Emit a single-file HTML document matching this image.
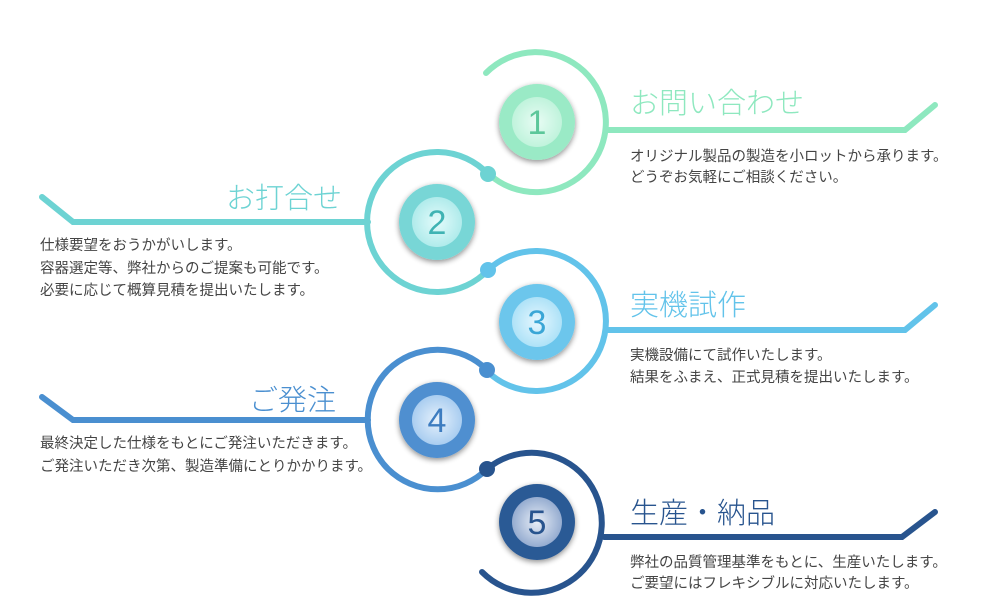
<!DOCTYPE html>
<html><head><meta charset="utf-8"><style>
html,body{margin:0;padding:0;background:#fff;}
svg text{font-family:"Liberation Sans","Noto Sans CJK JP",sans-serif;}
.t{font-size:29px;font-weight:300;}
.b{font-size:14.5px;fill:#444;}
</style></head><body>
<svg width="1000" height="600" viewBox="0 0 1000 600" xmlns="http://www.w3.org/2000/svg">
<defs>
<filter id="sh" x="-30%" y="-30%" width="160%" height="160%"><feGaussianBlur in="SourceAlpha" stdDeviation="3"/><feOffset dx="0" dy="2"/><feComponentTransfer><feFuncA type="linear" slope="0.45"/></feComponentTransfer><feMerge><feMergeNode/><feMergeNode in="SourceGraphic"/></feMerge></filter>
<radialGradient id="g1"><stop offset="0" stop-color="#e8fcf4"/><stop offset="1" stop-color="#c0f3dc"/></radialGradient>
<radialGradient id="g2"><stop offset="0" stop-color="#e4fbfb"/><stop offset="1" stop-color="#b0ebeb"/></radialGradient>
<radialGradient id="g3"><stop offset="0" stop-color="#e6f7ff"/><stop offset="1" stop-color="#aee2f7"/></radialGradient>
<radialGradient id="g4"><stop offset="0" stop-color="#e6f1fc"/><stop offset="1" stop-color="#a9cdf0"/></radialGradient>
<radialGradient id="g5"><stop offset="0" stop-color="#e8eef7"/><stop offset="1" stop-color="#95acd0"/></radialGradient>
</defs>
<g fill="none" stroke-width="6" stroke-linecap="round">
<path d="M486 73 A70 70 0 1 1 490 175" stroke="#8ee8bf"/>
<path d="M606 130 L905 130 L935 105" stroke="#8ee8bf"/>
<path d="M488 174 A70 70 0 1 0 488 270" stroke="#6dd3d3"/>
<path d="M368 222 L73 222 L42 197" stroke="#6dd3d3"/>
<path d="M488 270 A70 70 0 1 1 488 372" stroke="#62c3ea"/>
<path d="M606 330 L905 330 L935 305" stroke="#62c3ea"/>
<path d="M487 370 A70 70 0 1 0 487 469" stroke="#4a8fd0"/>
<path d="M368 420 L73 420 L42 397" stroke="#4a8fd0"/>
<path d="M487 469 A70 70 0 1 1 482 572" stroke="#28548e"/>
<path d="M604 537 L902 537 L935 512" stroke="#28548e"/>
</g>
<circle cx="488" cy="174" r="8" fill="#6dd3d3"/>
<circle cx="488" cy="270" r="8" fill="#62c3ea"/>
<circle cx="487" cy="370" r="8" fill="#4a8fd0"/>
<circle cx="487" cy="469" r="8" fill="#28548e"/>
<g filter="url(#sh)">
<circle cx="537" cy="122" r="38" fill="#9aeac6"/><circle cx="537" cy="122" r="25" fill="url(#g1)"/>
<circle cx="437" cy="222" r="38" fill="#78d6d6"/><circle cx="437" cy="222" r="25" fill="url(#g2)"/>
<circle cx="537" cy="322" r="38" fill="#6cc6ec"/><circle cx="537" cy="322" r="25" fill="url(#g3)"/>
<circle cx="437" cy="420" r="38" fill="#4f8fd0"/><circle cx="437" cy="420" r="25" fill="url(#g4)"/>
<circle cx="537" cy="522" r="38" fill="#2c5a95"/><circle cx="537" cy="522" r="25" fill="url(#g5)"/>
</g>
<g font-size="34" text-anchor="middle" font-weight="300">
<text x="537" y="134" fill="#5cc79a">1</text>
<text x="437" y="234" fill="#3fb3b3">2</text>
<text x="537" y="334" fill="#3aa6d6">3</text>
<text x="437" y="432" fill="#3d7cc0">4</text>
<text x="537" y="534" fill="#28548e">5</text>
</g>
<text class="t" x="630" y="113" fill="#8ee8bf">お問い合わせ</text>
<text class="b" x="630" y="161">オリジナル製品の製造を小ロットから承ります。</text>
<text class="b" x="630" y="182">どうぞお気軽にご相談ください。</text>
<text class="t" x="342" y="208" fill="#6dd3d3" text-anchor="end">お打合せ</text>
<text class="b" x="40" y="250">仕様要望をおうかがいします。</text>
<text class="b" x="40" y="273">容器選定等、弊社からのご提案も可能です。</text>
<text class="b" x="40" y="295">必要に応じて概算見積を提出いたします。</text>
<text class="t" x="630" y="315" fill="#62c3ea">実機試作</text>
<text class="b" x="630" y="360">実機設備にて試作いたします。</text>
<text class="b" x="630" y="382">結果をふまえ、正式見積を提出いたします。</text>
<text class="t" x="336" y="410" fill="#4a8fd0" text-anchor="end">ご発注</text>
<text class="b" x="40" y="448">最終決定した仕様をもとにご発注いただきます。</text>
<text class="b" x="40" y="471">ご発注いただき次第、製造準備にとりかかります。</text>
<text class="t" x="630" y="523" fill="#28548e">生産・納品</text>
<text class="b" x="630" y="567">弊社の品質管理基準をもとに、生産いたします。</text>
<text class="b" x="630" y="588">ご要望にはフレキシブルに対応いたします。</text>
</svg>
</body></html>
